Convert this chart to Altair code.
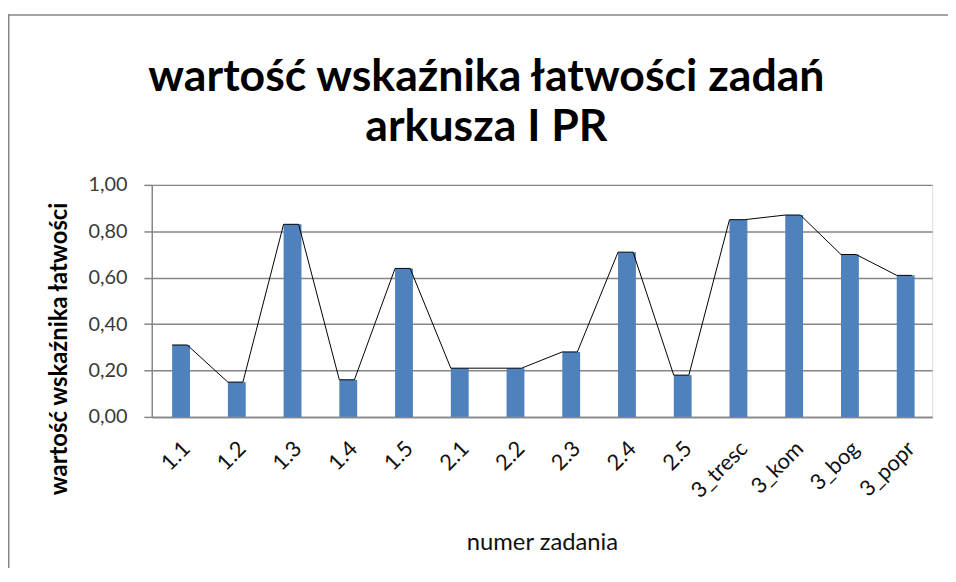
import altair as alt
import pandas as pd

categories = ["1.1", "1.2", "1.3", "1.4", "1.5", "2.1", "2.2", "2.3", "2.4", "2.5",
              "3_tresc", "3_kom", "3_bog", "3_popr"]
values = [0.31, 0.15, 0.83, 0.16, 0.64, 0.21, 0.21, 0.28, 0.71, 0.18,
          0.85, 0.87, 0.70, 0.61]
y_ticks = [0.0, 0.2, 0.4, 0.6, 0.8, 1.0]
sides = ["L", "R"]

title_lines = ["wartość wskaźnika łatwości zadań", "arkusza I PR"]
y_title = "wartość wskaźnika łatwości"
x_title = "numer zadania"

bars = pd.DataFrame({"zadanie": categories, "wartosc": values})
line_rows = []
for i, (c, v) in enumerate(zip(categories, values)):
    for j, s in enumerate(sides):
        line_rows.append({"zadanie": c, "wartosc": v, "strona": s, "kolejnosc": i * 2 + j})
lines = pd.DataFrame(line_rows)

FONT = "Lato"
GRID = "#868686"

x_enc = alt.X(
    "zadanie:N", sort=categories,
    scale=alt.Scale(paddingInner=0, paddingOuter=0),
    axis=alt.Axis(
        title=x_title, labelAngle=-45, labelFontSize=22, labelFont=FONT,
        labelColor="#111111", ticks=False, domainColor=GRID, domainWidth=1.5,
        labelPadding=21, titleFont=FONT, titleFontSize=24, titleFontWeight="normal",
        titleColor="#111111", titleY=134, titleBaseline="alphabetic",
    ),
)
y_enc = alt.Y(
    "wartosc:Q",
    scale=alt.Scale(domain=[0, 1], nice=False),
    axis=alt.Axis(
        title=y_title, values=y_ticks,
        labelExpr="replace(format(datum.value, '.2f'), '.', ',')",
        labelFont=FONT, labelFontSize=20, labelColor="#3a3a3a", labelPadding=17,
        tickSize=8, tickColor=GRID, tickWidth=1.5, domainColor=GRID, domainWidth=1.5,
        gridColor=GRID, gridWidth=1.5,
        titleFont=FONT, titleFontSize=24, titleFontWeight="bold", titleColor="#000000",
        titleAngle=270, titleX=-93, titleY=165, titleAlign="center",
        titleBaseline="middle",
    ),
)

bar_layer = alt.Chart(bars).mark_bar(
    color="#4F81BD", width=alt.RelativeBandSize(0.27)
).encode(x=x_enc, y=y_enc)

line_layer = alt.Chart(lines).mark_line(color="#000000", strokeWidth=1).encode(
    x=alt.X("zadanie:N", sort=categories),
    xOffset=alt.XOffset("strona:N", scale=alt.Scale(type="point", domain=sides, range=[20.5, 35.7], padding=0)),
    y="wartosc:Q",
    order="kolejnosc:Q",
)

one = pd.DataFrame({"zadanie": categories[:1]})
frame_left = alt.Chart(one).mark_rect(color=GRID, strokeWidth=0).encode(
    x=alt.value(-145), x2=alt.value(-143.5), y=alt.value(-172), y2=alt.value(2000)
)
frame_top = alt.Chart(one).mark_rect(color=GRID, strokeWidth=0).encode(
    x=alt.value(-145), x2=alt.value(2000), y=alt.value(-172), y2=alt.value(-170.5)
)

chart = alt.layer(frame_left, frame_top, bar_layer, line_layer).properties(
    width=787, height=234,
    title=alt.TitleParams(
        text=title_lines, font=FONT, fontSize=45, fontWeight="bold", color="#000000",
        anchor="middle", dx=-56, offset=0, dy=137, lineHeight=51,
    ),
    autosize=alt.AutoSizeParams(type="none"),
    padding={"left": 145, "top": 176, "right": 16, "bottom": 150},
).configure_view(stroke=None).configure(background="#ffffff")

chart.save("out.html", embed_options={"renderer": "svg", "actions": False})
